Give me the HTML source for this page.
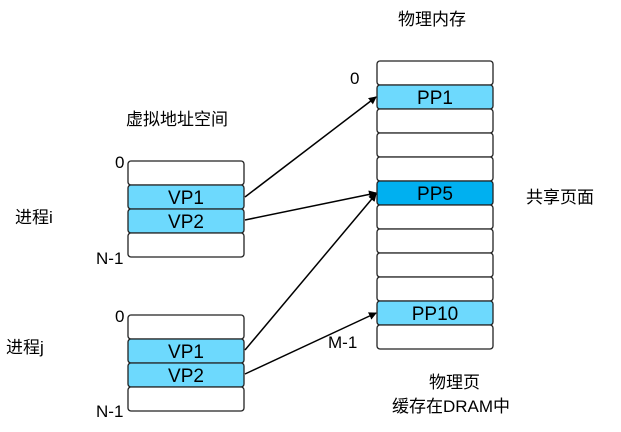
<!DOCTYPE html>
<html><head><meta charset="utf-8"><style>
body{margin:0;background:#fff;}
svg text{font-family:"Liberation Sans","Noto Sans CJK SC",sans-serif;fill:#000;}
</style></head><body>
<svg width="621" height="427" viewBox="0 0 621 427" xmlns="http://www.w3.org/2000/svg">
<defs><marker id="a" markerWidth="8" markerHeight="8" refX="7" refY="4" orient="auto" markerUnits="userSpaceOnUse"><path d="M0,0 L8,4 L0,8 z" fill="#000"/></marker></defs>
<g stroke="#222" stroke-width="1.3">
<rect x="128" y="161" width="116" height="24" rx="3" fill="#fff"/>
<rect x="128" y="185" width="116" height="24" rx="3" fill="#6dd9fd"/>
<rect x="128" y="209" width="116" height="24" rx="3" fill="#6dd9fd"/>
<rect x="128" y="233" width="116" height="24" rx="3" fill="#fff"/>
<rect x="128" y="315" width="116" height="24" rx="3" fill="#fff"/>
<rect x="128" y="339" width="116" height="24" rx="3" fill="#6dd9fd"/>
<rect x="128" y="363" width="116" height="24" rx="3" fill="#6dd9fd"/>
<rect x="128" y="387" width="116" height="24" rx="3" fill="#fff"/>
<rect x="377" y="61" width="116" height="24" rx="3" fill="#fff"/>
<rect x="377" y="85" width="116" height="24" rx="3" fill="#6dd9fd"/>
<rect x="377" y="109" width="116" height="24" rx="3" fill="#fff"/>
<rect x="377" y="133" width="116" height="24" rx="3" fill="#fff"/>
<rect x="377" y="157" width="116" height="24" rx="3" fill="#fff"/>
<rect x="377" y="181" width="116" height="24" rx="3" fill="#00b0f0"/>
<rect x="377" y="205" width="116" height="24" rx="3" fill="#fff"/>
<rect x="377" y="229" width="116" height="24" rx="3" fill="#fff"/>
<rect x="377" y="253" width="116" height="24" rx="3" fill="#fff"/>
<rect x="377" y="277" width="116" height="24" rx="3" fill="#fff"/>
<rect x="377" y="301" width="116" height="24" rx="3" fill="#6dd9fd"/>
<rect x="377" y="325" width="116" height="24" rx="3" fill="#fff"/>
</g>
<g stroke="#000" stroke-width="1.5" marker-end="url(#a)">
<line x1="245" y1="197" x2="376" y2="97"/>
<line x1="245" y1="220" x2="376" y2="193"/>
<line x1="245" y1="350" x2="376" y2="194"/>
<line x1="245" y1="374" x2="376" y2="313"/>
</g>
<g font-size="19" text-anchor="middle">
<text x="186" y="204">VP1</text><text x="186" y="228">VP2</text>
<text x="186" y="358">VP1</text><text x="186" y="382">VP2</text>
<text x="435" y="104">PP1</text><text x="435" y="200">PP5</text><text x="435" y="320">PP10</text>
</g>
<g font-size="17">
<text x="398" y="25">物理内存</text>
<text x="350" y="84">0</text>
<text x="126" y="125">虚拟地址空间</text>
<text x="115" y="168">0</text>
<text x="96" y="264">N-1</text>
<text x="15" y="223">进程i</text>
<text x="526" y="203">共享页面</text>
<text x="115" y="322">0</text>
<text x="6" y="353">进程j</text>
<text x="328" y="348">M-1</text>
<text x="96" y="417">N-1</text>
<text x="429" y="388">物理页</text>
<text x="392" y="412">缓存在DRAM中</text>
</g>
</svg>
</body></html>
